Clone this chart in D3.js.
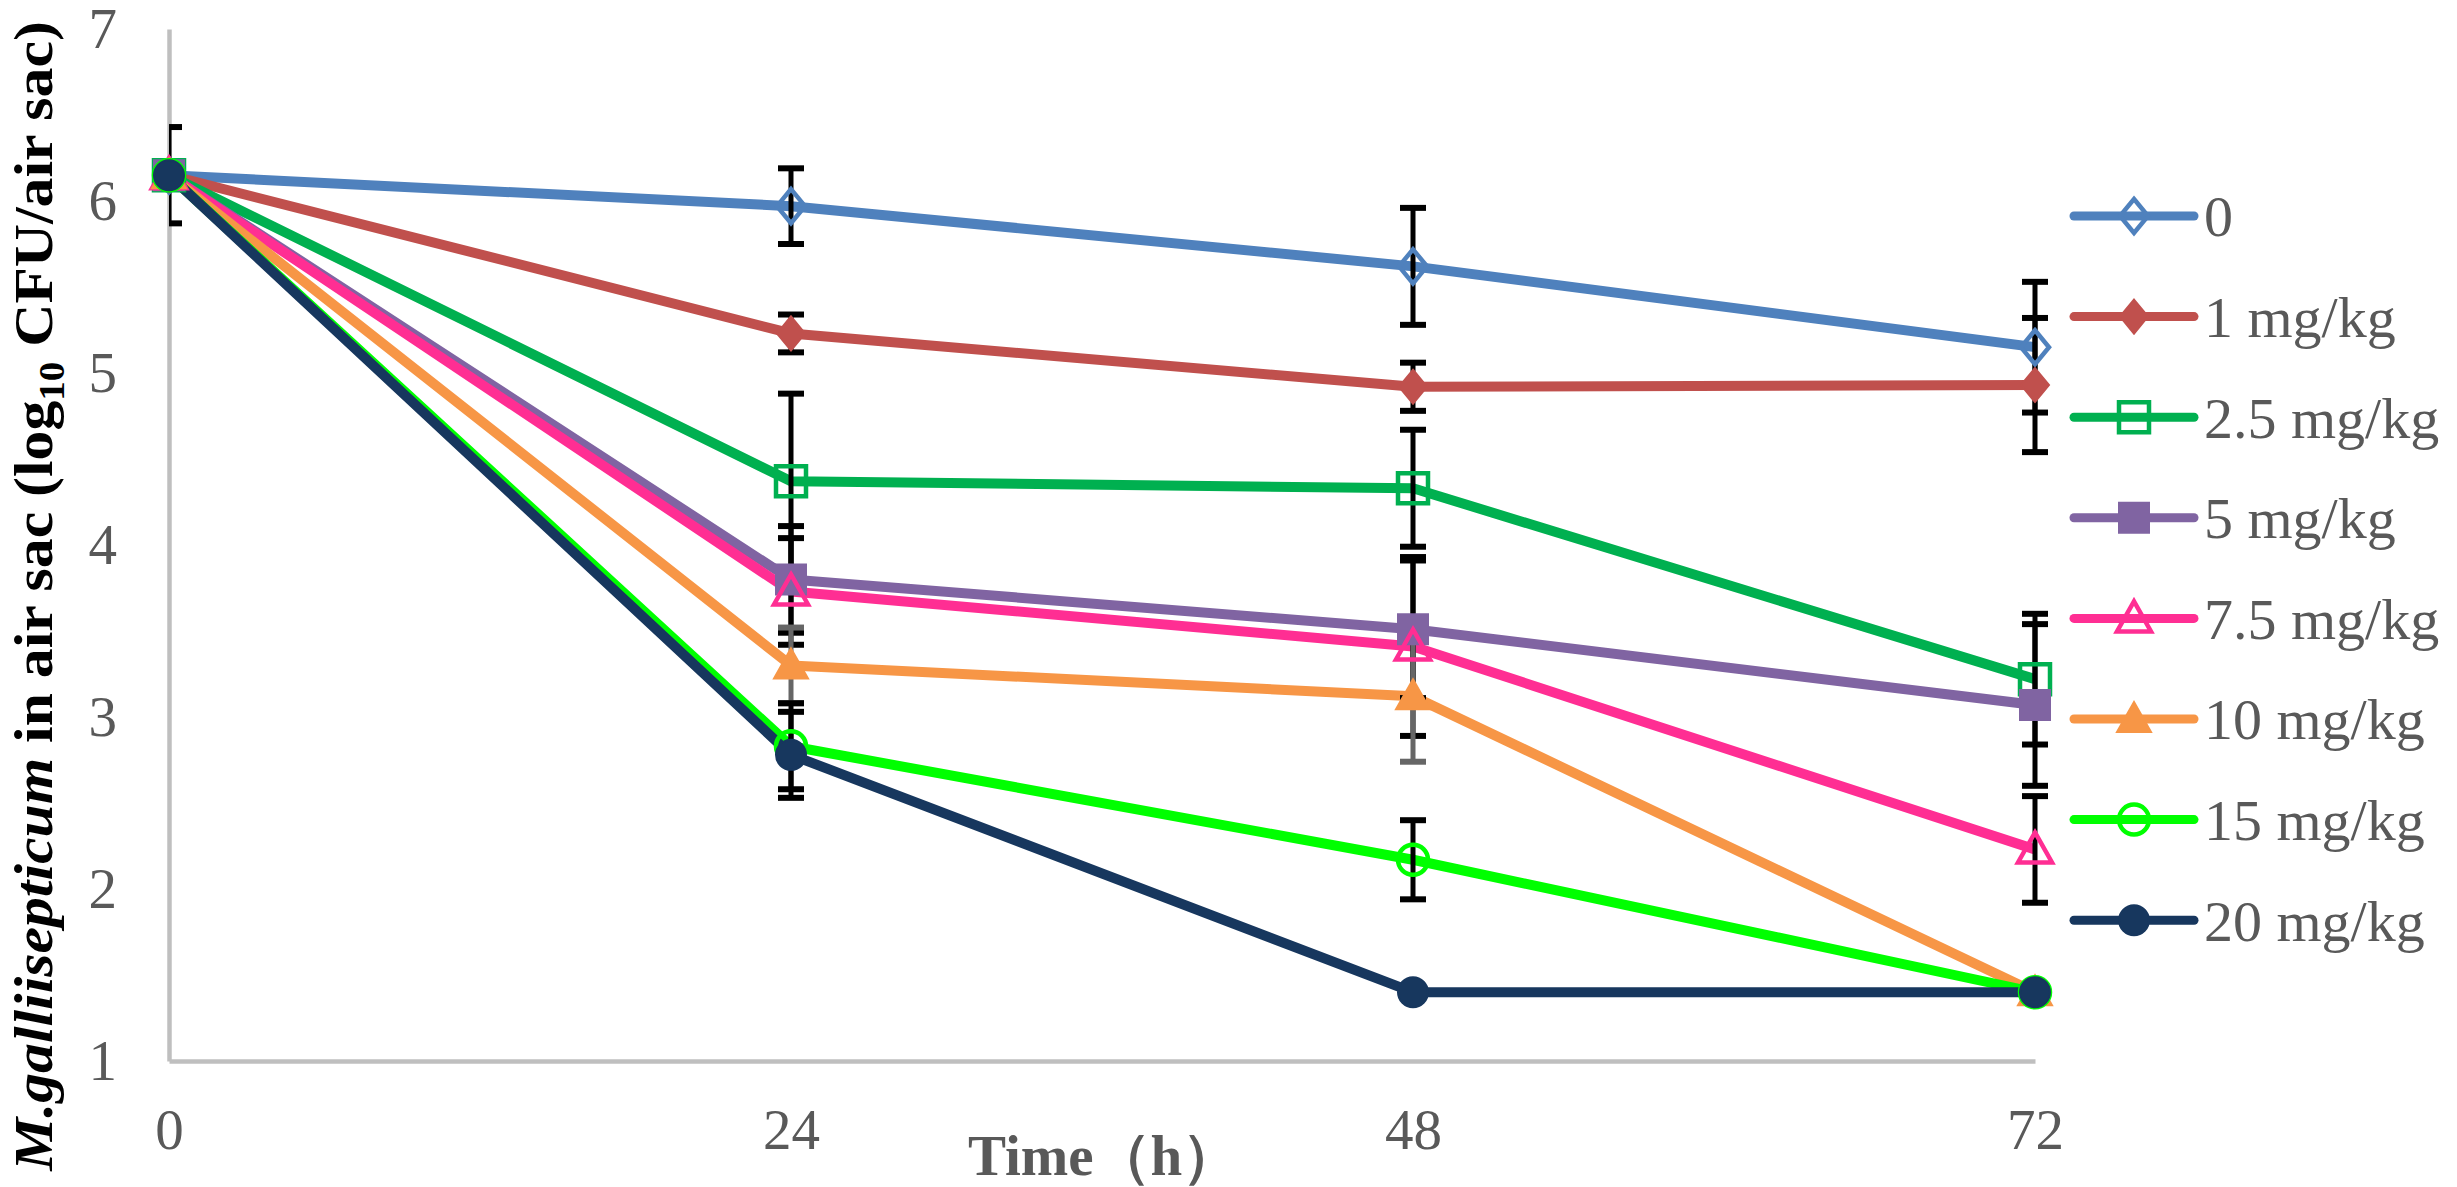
<!DOCTYPE html>
<html>
<head>
<meta charset="utf-8">
<script src="https://cdn.jsdelivr.net/npm/d3@7"></script>
<style>
    body { margin: 0; background: #fff; }
    svg { display: block; }
    .tick text { font-family: "Liberation Serif", "Times New Roman", serif; }
</style>
</head>
<body>
<svg id="vis" width="2457" height="1187"></svg>
<script>
/**
 * Time points (h) on the x axis
 */
const TIMES = [0, 24, 48, 72];
const Y_TICKS = [1, 2, 3, 4, 5, 6, 7];

const GROUPS = ["0", "1 mg/kg", "2.5 mg/kg", "5 mg/kg", "7.5 mg/kg", "10 mg/kg", "15 mg/kg", "20 mg/kg"];
const COLORS = ["#4F81BD", "#C0504D", "#00B050", "#8064A2", "#FF2E93", "#F79646", "#00FF00", "#17375E"];
const SHAPES = ["diamond", "diamond", "square", "square", "triangle", "triangle", "circle", "circle"];
const FILLED = [false, true, false, true, false, true, false, true];
const BAR_COLORS = ["#000", "#000", "#000", "#000", "#000", "#666", "#000", "#000"];

// mean log10 CFU per air sac
const MEAN_0   = [6.15, 5.97, 5.62, 5.15];
const MEAN_1   = [6.15, 5.23, 4.92, 4.93];
const MEAN_2_5 = [6.15, 4.37, 4.33, 3.22];
const MEAN_5   = [6.15, 3.80, 3.51, 3.07];
const MEAN_7_5 = [6.15, 3.73, 3.41, 2.23];
const MEAN_10  = [6.15, 3.30, 3.12, 1.40];
const MEAN_15  = [6.15, 2.83, 2.17, 1.40];
const MEAN_20  = [6.15, 2.78, 1.40, 1.40];

// error bar half lengths
const SD_0   = [0.28, 0.22, 0.34, 0.38];
const SD_1   = [0, 0.11, 0.14, 0.39];
const SD_2_5 = [0, 0.51, 0.34, 0.38];
const SD_5   = [0, 0.31, 0.40, 0.47];
const SD_7_5 = [0, 0.31, 0.52, 0.31];
const SD_10  = [0, 0.22, 0.38, 0];
const SD_15  = [0, 0.25, 0.23, 0];
const SD_20  = [0, 0.25, 0, 0];

const MEANS = [MEAN_0, MEAN_1, MEAN_2_5, MEAN_5, MEAN_7_5, MEAN_10, MEAN_15, MEAN_20];
const SDS = [SD_0, SD_1, SD_2_5, SD_5, SD_7_5, SD_10, SD_15, SD_20];

const MARGINS = {top: 29, right: 422, bottom: 126, left: 169};
const WIDTH = 2457, HEIGHT = 1187;
const SERIF = "'Liberation Serif', 'Times New Roman', serif";

const svg = d3.select("#vis");
svg.append("rect").attr("width", WIDTH).attr("height", HEIGHT).attr("fill", "#fff");

const x = d3.scaleLinear().domain([0, 72]).range([MARGINS.left, WIDTH - MARGINS.right]);
const y = d3.scaleLinear().domain([1, 7]).range([HEIGHT - MARGINS.bottom, MARGINS.top]);

// build one record per group
const series = GROUPS.map(function(g, i){
    return {
        name: g, color: COLORS[i], shape: SHAPES[i], filled: FILLED[i], barColor: BAR_COLORS[i],
        points: TIMES.map(function(t, j){ return {t: t, v: MEANS[i][j], sd: SDS[i][j]}; })
    };
});

// marker path centred on 0,0
function markerPath(shape){
    if (shape === "diamond") return "M0,-17L14,0L0,17L-14,0Z";
    if (shape === "square") return "M-15,-15H15V15H-15Z";
    if (shape === "triangle") return "M0,-17L17,13H-17Z";
    return "M15,0A15,15 0 1,1 -15,0A15,15 0 1,1 15,0Z";
}

// axes
const xAxis = d3.axisBottom(x).tickValues(TIMES).tickSize(0).tickPadding(48);
const yAxis = d3.axisLeft(y).tickValues(Y_TICKS).tickFormat(d3.format("d")).tickSize(0).tickPadding(52);

const gx = svg.append("g")
    .attr("transform", `translate(0, ${y(1)})`)
    .call(xAxis);
const gy = svg.append("g")
    .attr("transform", `translate(${x(0)}, 0)`)
    .call(yAxis);
[gx, gy].forEach(function(g){
    g.select(".domain").attr("stroke", "#BFBFBF").attr("stroke-width", 4.5);
    g.selectAll(".tick text").attr("fill", "#595959").attr("font-size", 57);
});
gx.selectAll(".tick text").attr("dy", "0.71em");

// clip so the error bar at time 0 only shows inside the plot
svg.append("clipPath").attr("id", "plotClip")
    .append("rect")
    .attr("x", x(0)).attr("y", 0)
    .attr("width", WIDTH - MARGINS.right - MARGINS.left + 40).attr("height", HEIGHT);

const plot = svg.append("g").attr("clip-path", "url(#plotClip)");

const line = d3.line().x(function(d){ return x(d.t); }).y(function(d){ return y(d.v); });

// lines
plot.selectAll(".series-line")
    .data(series)
    .enter()
    .append("path")
    .attr("class", "series-line")
    .attr("d", function(d){ return line(d.points); })
    .attr("fill", "none")
    .attr("stroke", function(d){ return d.color; })
    .attr("stroke-width", 10)
    .attr("stroke-linejoin", "round");

// error bars
const bars = [];
series.forEach(function(s){
    s.points.forEach(function(p){
        if (p.sd > 0) bars.push({t: p.t, lo: p.v - p.sd, hi: p.v + p.sd, color: s.barColor});
    });
});
const barG = plot.selectAll(".err")
    .data(bars)
    .enter()
    .append("g")
    .attr("class", "err")
    .attr("stroke", function(d){ return d.color; })
    .attr("stroke-width", 5);
barG.append("line")
    .attr("x1", function(d){ return x(d.t); }).attr("x2", function(d){ return x(d.t); })
    .attr("y1", function(d){ return y(d.lo); }).attr("y2", function(d){ return y(d.hi); });
barG.append("line")
    .attr("x1", function(d){ return x(d.t) - 13; }).attr("x2", function(d){ return x(d.t) + 13; })
    .attr("y1", function(d){ return y(d.hi); }).attr("y2", function(d){ return y(d.hi); })
    .attr("stroke-width", 6);
barG.append("line")
    .attr("x1", function(d){ return x(d.t) - 13; }).attr("x2", function(d){ return x(d.t) + 13; })
    .attr("y1", function(d){ return y(d.lo); }).attr("y2", function(d){ return y(d.lo); })
    .attr("stroke-width", 6);

// markers
series.forEach(function(s){
    svg.selectAll(null)
        .data(s.points)
        .enter()
        .append("path")
        .attr("d", markerPath(s.shape))
        .attr("transform", function(d){ return `translate(${x(d.t)}, ${y(d.v)})`; })
        .attr("fill", s.filled ? s.color : "none")
        .attr("stroke", s.color)
        .attr("stroke-width", s.filled ? 2 : 4.5);
});

// axis titles
svg.append("text")
    .attr("x", 968)
    .attr("y", 1175)
    .attr("font-family", SERIF)
    .attr("font-weight", "bold")
    .attr("font-size", 57)
    .attr("fill", "#595959")
    .text("Time（h）");

const yTitle = svg.append("text")
    .attr("text-anchor", "middle")
    .attr("font-family", SERIF)
    .attr("font-weight", "bold")
    .attr("font-size", 55)
    .attr("fill", "#000");
yTitle.append("tspan").attr("font-style", "italic").text("M.galliisepticum");
yTitle.append("tspan").text(" in air sac (log");
yTitle.append("tspan").attr("font-size", 36).attr("dy", 12).text("10");
yTitle.append("tspan").attr("dy", -12).text(" CFU/air sac)");
// stretch the title to the length it has in the picture
const titleLen = yTitle.node().getComputedTextLength();
const k = 1150 / titleLen;
yTitle.attr("transform", `translate(52, 596) rotate(-90) scale(${k}, 1)`);

// legend
const legend = svg.selectAll(".legend")
    .data(series)
    .enter()
    .append("g")
    .attr("class", "legend")
    .attr("transform", function(d, i){ return `translate(2074, ${216 + i * 100.6})`; });
legend.append("line")
    .attr("x1", 0).attr("x2", 120)
    .attr("stroke", function(d){ return d.color; })
    .attr("stroke-width", 9)
    .attr("stroke-linecap", "round");
legend.append("path")
    .attr("d", function(d){ return markerPath(d.shape); })
    .attr("transform", "translate(60, 0)")
    .attr("fill", function(d){ return d.filled ? d.color : "none"; })
    .attr("stroke", function(d){ return d.color; })
    .attr("stroke-width", function(d){ return d.filled ? 2 : 4.5; });
legend.append("text")
    .attr("x", 130)
    .attr("dy", "0.35em")
    .attr("font-family", SERIF)
    .attr("font-size", 58)
    .attr("fill", "#595959")
    .text(function(d){ return d.name; });
</script>
</body>
</html>
